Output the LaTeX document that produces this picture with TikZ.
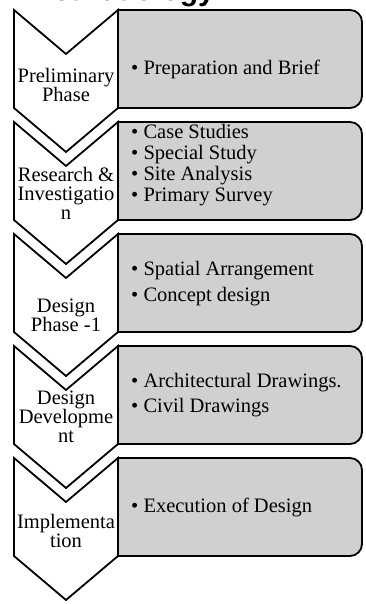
\documentclass[tikz,border=0pt]{standalone}
\usepackage{fontspec}
\setmainfont{Liberation Serif}
\newfontfamily\titlefont{Liberation Sans}
\definecolor{stepgray}{RGB}{208,208,208}

\begin{document}
\begin{tikzpicture}[x=1pt,y=1pt]
        \tikzstyle{chevron}=[draw=black,fill=white,line width=1.8pt,line join=miter]
        \tikzstyle{stepbox}=[draw=black,fill=stepgray,line width=1.8pt]
        \tikzstyle{phase}=[align=center,anchor=base,inner sep=0pt,font=\fontsize{20.5}{19}\selectfont]
        \tikzstyle{tasks}=[align=left,anchor=base west,inner sep=0pt,font=\fontsize{20.5}{21}\selectfont]
        \useasboundingbox (0,0) rectangle (366,604);
        % title, cut off by the page edge
        \node[anchor=base west,inner sep=0pt,font=\titlefont\bfseries\fontsize{30}{30}\selectfont] (title) at (28,603) {Methodology};
        % boxes and chevrons
        \foreach \T in {594,482,370,258,146}{
          \draw[stepbox] (118,\T) -- (350,\T) arc[start angle=90,end angle=0,radius=12]
            -- (362,\T-86) arc[start angle=0,end angle=-90,radius=12] -- (118,\T-98) -- cycle;
          \draw[chevron] (14,\T) -- (66,\T-44) -- (118,\T) -- (118,\T-98) -- (66,\T-142) -- (14,\T-98) -- cycle;
        }
        % labels sit on the baseline of their last line
        \node[phase] (prelim) at (66,502) {Preliminary\\Phase};
        \node[phase] (research) at (66,384) {Research \&\\Investigatio\\n};
        \node[phase] (design) at (66,272) {Design\\Phase -1};
        \node[phase] (develop) at (66,161) {Design\\Developme\\nt};
        \node[phase] (implement) at (66,56) {Implementa\\tion};
        \node[tasks] (brief) at (131,529) {\textbullet\ Preparation and Brief};
        \node[tasks] (studies) at (131,402) {\textbullet\ Case Studies\\\textbullet\ Special Study\\\textbullet\ Site Analysis\\\textbullet\ Primary Survey};
        \node[tasks,font=\fontsize{20.5}{26}\selectfont] (concept) at (131,302) {\textbullet\ Spatial Arrangement\\\textbullet\ Concept design};
        \node[tasks,font=\fontsize{20.5}{25}\selectfont] (drawings) at (131,191) {\textbullet\ Architectural Drawings.\\\textbullet\ Civil Drawings};
        \node[tasks] (execution) at (131,91) {\textbullet\ Execution of Design};
\end{tikzpicture}
\end{document}
